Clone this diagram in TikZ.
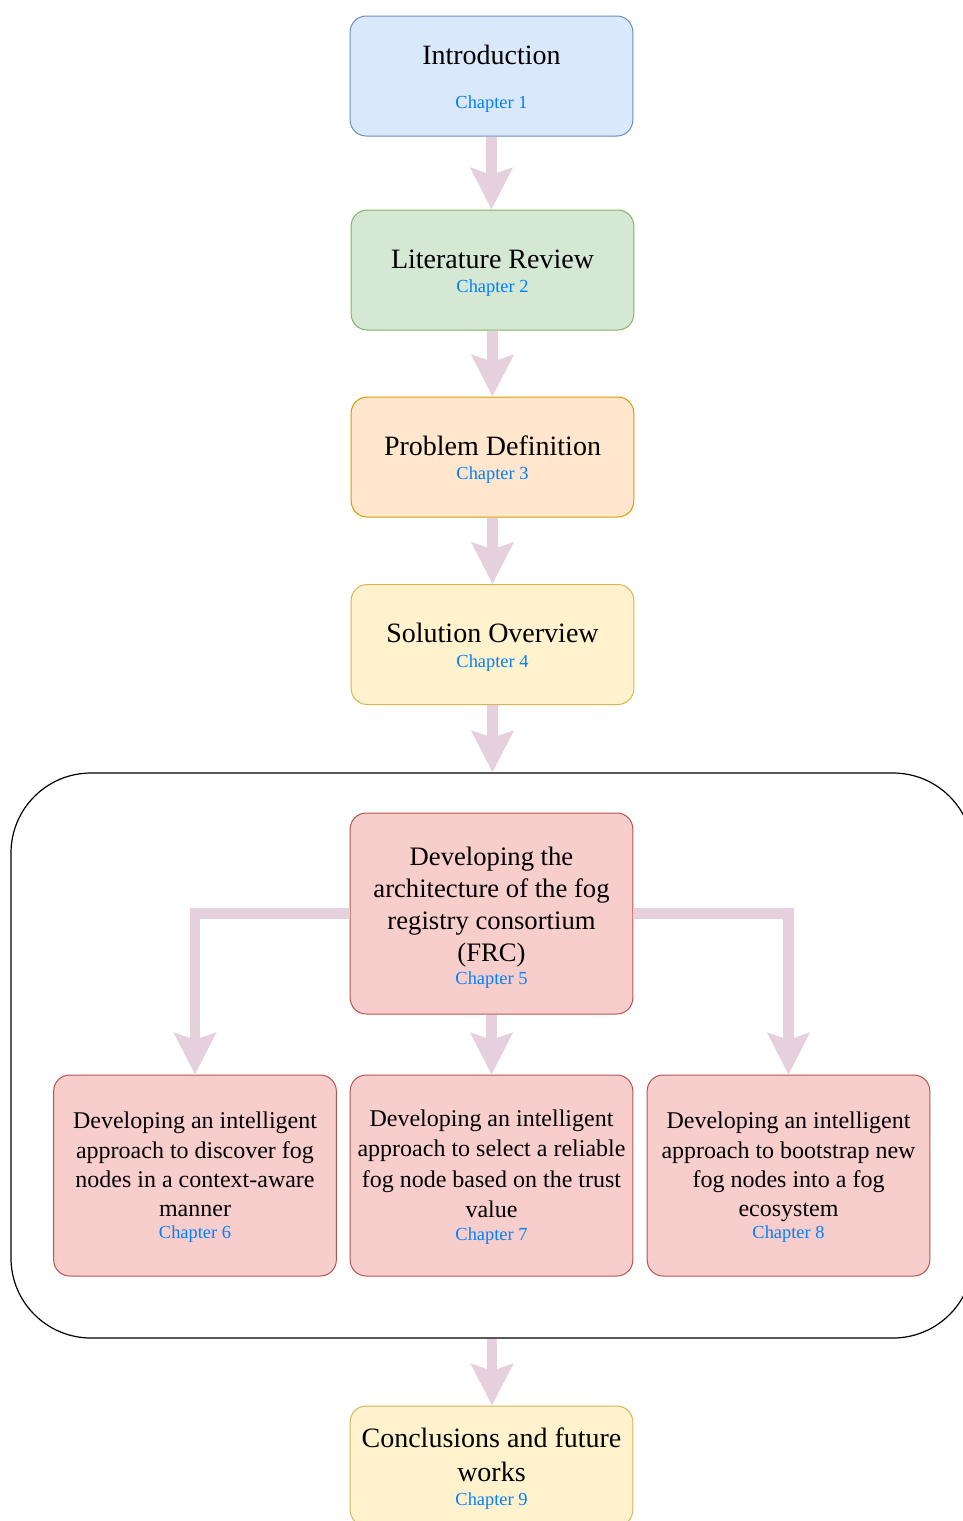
\documentclass[tikz,border=0pt]{standalone}
\usepackage{fontspec}
\setmainfont{Liberation Serif}
\usetikzlibrary{arrows.meta}
\definecolor{chapblue}{HTML}{007FFF}
\definecolor{flow}{HTML}{E6D0DE}
\definecolor{blueF}{HTML}{DAE8FC}\definecolor{blueD}{HTML}{6C8EBF}
\definecolor{greenF}{HTML}{D5E8D4}\definecolor{greenD}{HTML}{82B366}
\definecolor{orangeF}{HTML}{FFE6CC}\definecolor{orangeD}{HTML}{D79B00}
\definecolor{yellowF}{HTML}{FFF2CC}\definecolor{yellowD}{HTML}{D6B656}
\definecolor{redF}{HTML}{F8CECC}\definecolor{redD}{HTML}{B85450}
\newcommand\ttlfont{\fontsize{21}{25.5}\selectfont}
\newcommand\frcfont{\fontsize{20}{24}\selectfont}
\newcommand\subfont{\fontsize{18}{22}\selectfont}
\newcommand\chapline[1]{{\fontsize{13.8}{16}\selectfont\color{chapblue}#1}}
% invisible strut that leaves some room above the first line
\newcommand\headroom[1]{\rule{0pt}{#1}}
\tikzset{
  chapbox/.style={rounded corners=12pt, draw, line width=0.75pt,
    minimum width=212pt, minimum height=90pt, align=center, inner sep=0pt,
    font=\ttlfont},
  tallbox/.style={chapbox, minimum height=150.75pt, font=\subfont},
  group/.style={draw=black, line width=0.9pt, rounded corners=60pt,
    minimum width=721.5pt, minimum height=423.75pt, inner sep=0pt},
  flowarrow/.style={draw=flow, line width=8pt,
    -{Stealth[length=31pt, width=31pt, inset=5pt, fill=flow]}}
}
\begin{document}
\begin{tikzpicture}[x=0.75pt, y=-0.75pt]
\clip (0,0) rectangle (963,1521);

% outer group around chapters 5 to 8
\node[group] (grp) at (492,1055.5) {};

% chapter boxes
\node[chapbox, fill=blueF, draw=blueD] (intro) at (491.5,76)
  {\headroom{18.8pt}Introduction\\[7pt]\chapline{Chapter 1}};
\node[chapbox, fill=greenF, draw=greenD] (lit) at (492.5,270)
  {\headroom{18.8pt}Literature Review\\[-7.2pt]\chapline{Chapter 2}};
\node[chapbox, fill=orangeF, draw=orangeD] (prob) at (492.5,457)
  {\headroom{18.8pt}Problem Definition\\[-7.2pt]\chapline{Chapter 3}};
\node[chapbox, fill=yellowF, draw=yellowD] (sol) at (492.5,644.5)
  {\headroom{18.8pt}Solution Overview\\[-7.2pt]\chapline{Chapter 4}};

\node[tallbox, fill=redF, draw=redD, font=\frcfont] (frc) at (491.5,913.5)
  {\headroom{19.7pt}Developing the\\architecture of the fog\\registry consortium\\(FRC)\\[-7pt]\chapline{Chapter 5}};

\node[tallbox, fill=redF, draw=redD] (c6) at (195,1175.5)
  {\headroom{15.3pt}Developing an intelligent\\approach to discover fog\\nodes in a context-aware\\manner\\[-5.5pt]\chapline{Chapter 6}};
\node[tallbox, fill=redF, draw=redD, font=\fontsize{18}{22.7}\selectfont] (c7) at (491.5,1175.5)
  {\headroom{15.3pt}Developing an intelligent\\approach to select a reliable\\fog node based on the trust\\value\\[-5pt]\chapline{Chapter 7}};
\node[tallbox, fill=redF, draw=redD] (c8) at (788.5,1175.5)
  {\headroom{15.3pt}Developing an intelligent\\approach to bootstrap new\\fog nodes into a fog\\ecosystem\\[-5.5pt]\chapline{Chapter 8}};

\node[chapbox, fill=yellowF, draw=yellowD] (concl) at (491.5,1466)
  {\headroom{18.8pt}Conclusions and future\\works\\[-7.2pt]\chapline{Chapter 9}};

% connectors
\draw[flowarrow] (intro.south) -- (intro.south |- lit.north);
\draw[flowarrow] (lit.south) -- (lit.south |- prob.north);
\draw[flowarrow] (prob.south) -- (prob.south |- sol.north);
\draw[flowarrow] (sol.south) -- (sol.south |- grp.north);
\draw[flowarrow] (frc.west) -| (c6.north);
\draw[flowarrow] (frc.south) -- (c7.north);
\draw[flowarrow] (frc.east) -| (c8.north);
\draw[flowarrow] (grp.south) -- (grp.south |- concl.north);
\end{tikzpicture}
\end{document}
